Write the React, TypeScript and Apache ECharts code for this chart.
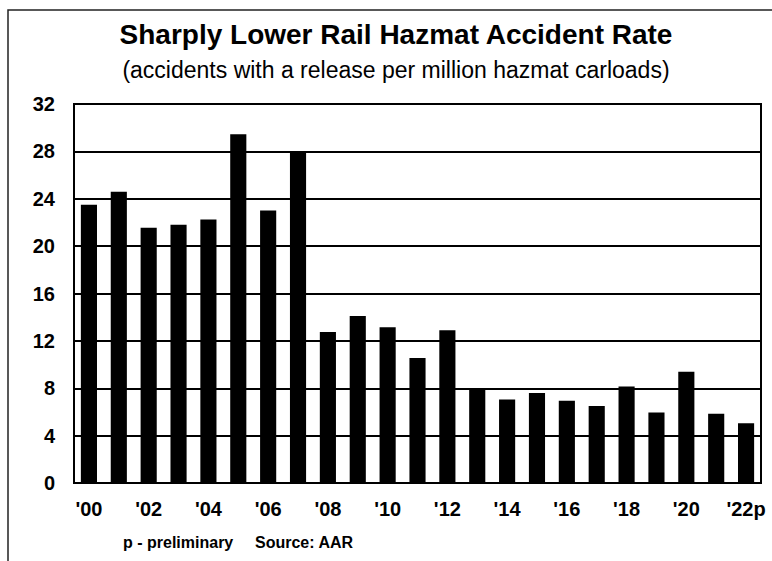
import React, { useEffect, useRef } from "react";
import * as echarts from "echarts";

const categories = [
  "'00", "'01", "'02", "'03", "'04", "'05", "'06", "'07", "'08", "'09", "'10", "'11",
  "'12", "'13", "'14", "'15", "'16", "'17", "'18", "'19", "'20", "'21", "'22p",
];
const accidentRate = [
  23.5, 24.6, 21.55, 21.8, 22.25, 29.45, 23.0, 28.0, 12.75, 14.1, 13.15, 10.55,
  12.9, 7.95, 7.05, 7.6, 6.95, 6.5, 8.15, 5.95, 9.4, 5.85, 5.05,
];
const titleText = "Sharply Lower Rail Hazmat Accident Rate";
const subtitleText = "(accidents with a release per million hazmat carloads)";
const footerNote = "p - preliminary";
const footerSource = "Source: AAR";

const FONT = "'Liberation Sans', Arial, Helvetica, sans-serif";

export default function App() {
  const ref = useRef<HTMLDivElement>(null);
  useEffect(() => {
    if (!ref.current) return;
    const chart = echarts.init(ref.current, null, { renderer: "svg" });
    chart.setOption({
      animation: false,
      backgroundColor: "#ffffff",
      grid: {
        left: 74,
        right: 11,
        top: 104,
        bottom: 78,
        show: true,
        borderColor: "#000",
        borderWidth: 2,
        backgroundColor: "transparent",
      },
      xAxis: {
        type: "category",
        data: categories,
        axisLine: { show: true, lineStyle: { color: "#000", width: 2 } },
        axisTick: { show: false },
        axisLabel: {
          interval: 1,
          fontFamily: FONT,
          fontSize: 20,
          fontWeight: "bold",
          color: "#000",
          margin: 16,
        },
      },
      yAxis: {
        type: "value",
        min: 0,
        max: 32,
        interval: 4,
        axisLine: { show: true, lineStyle: { color: "#000", width: 2 } },
        axisTick: { show: false },
        splitLine: { show: true, lineStyle: { color: "#000", width: 2 } },
        axisLabel: {
          fontFamily: FONT,
          fontSize: 20,
          fontWeight: "bold",
          color: "#000",
          margin: 19,
        },
      },
      series: [
        {
          type: "bar",
          data: accidentRate,
          barWidth: "54%",
          itemStyle: { color: "#000" },
        },
      ],
      graphic: [
        {
          type: "polyline",
          shape: { points: [[8, 561], [8, 10], [772, 10]] },
          style: { stroke: "#222", lineWidth: 1.5, fill: "none" },
          silent: true,
        },
        {
          type: "text",
          style: {
            x: 396,
            y: 34,
            text: titleText,
            textAlign: "center",
            textVerticalAlign: "middle",
            fontFamily: FONT,
            fontSize: 28,
            fontWeight: "bold",
            fill: "#000",
          },
        },
        {
          type: "text",
          style: {
            x: 396,
            y: 70,
            text: subtitleText,
            textAlign: "center",
            textVerticalAlign: "middle",
            fontFamily: FONT,
            fontSize: 23,
            fontWeight: "normal",
            fill: "#000",
          },
        },
        {
          type: "text",
          style: {
            x: 123,
            y: 542,
            text: footerNote,
            textAlign: "left",
            textVerticalAlign: "middle",
            fontFamily: FONT,
            fontSize: 16,
            fontWeight: "bold",
            fill: "#000",
          },
        },
        {
          type: "text",
          style: {
            x: 255,
            y: 542,
            text: footerSource,
            textAlign: "left",
            textVerticalAlign: "middle",
            fontFamily: FONT,
            fontSize: 16,
            fontWeight: "bold",
            fill: "#000",
          },
        },
      ],
    });
    return () => chart.dispose();
  }, []);
  return (
    <div
      ref={ref}
      style={{ position: "fixed", left: 0, top: 0, width: 772, height: 561 }}
    />
  );
}
